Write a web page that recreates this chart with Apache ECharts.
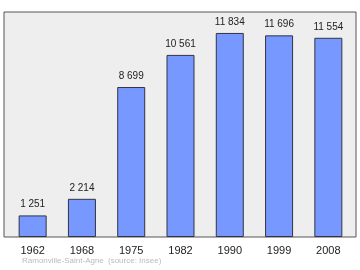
<!DOCTYPE html>
<html><head><meta charset="utf-8">
<script src="https://cdn.jsdelivr.net/npm/echarts@6/dist/echarts.min.js"></script>
<style>html,body{margin:0;padding:0;background:#fff}#c{width:360px;height:270px}</style>
</head><body><div id="c"></div>
<script>
const categories = ['1962','1968','1975','1982','1990','1999','2008'];
const population = [1251, 2214, 8699, 10561, 11834, 11696, 11554];
const placeName = 'Ramonville-Saint-Agne';
const sourceNote = '(source: Insee)';

const fmt = v => String(v).replace(/\B(?=(\d{3})+(?!\d))/g, ' ');
const FONT = '"Liberation Sans", Arial, sans-serif';
const chart = echarts.init(document.getElementById('c'), null, {renderer:'canvas'});
chart.setOption({
  animation:false,
  backgroundColor:'#ffffff',
  grid:{left:8, right:7, top:12, bottom:33, show:false},
  graphic:[
    {type:'rect', shape:{x:4, y:12, width:352, height:225}, style:{fill:'#eeeeee', stroke:'#555555', lineWidth:1}, z:-10, silent:true},
    {type:'text', left:22, top:257, style:{text:placeName, fill:'#bbbbbb', font:'8px ' + FONT}},
    {type:'text', left:108, top:257, style:{text:sourceNote, fill:'#bbbbbb', font:'8px ' + FONT}}
  ],
  xAxis:{type:'category', data:categories,
    axisLine:{show:false}, axisTick:{show:false},
    axisLabel:{color:'#222', fontSize:11, fontFamily:FONT, margin:8}},
  yAxis:{type:'value', min:0, max:13050, show:false, splitLine:{show:false}},
  series:[{type:'bar', data:population, barWidth:28,
    itemStyle:{color:'#7799ff', borderColor:'#334', borderWidth:1},
    label:{show:true, position:'top', distance:6, color:'#222', fontSize:10,
      fontFamily:FONT, formatter:p=>fmt(p.value)}}]
});
</script></body></html>
